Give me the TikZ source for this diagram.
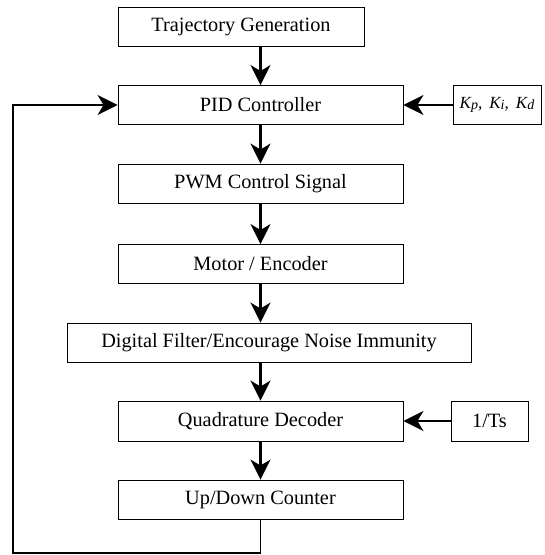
\documentclass[tikz,border=0pt]{standalone}
\usepackage{fontspec}
\setmainfont{Liberation Serif}
\usetikzlibrary{arrows.meta}
\newcommand\ksub[1]{\raisebox{-1.5pt}{\fontsize{14}{15}\selectfont #1}}
\begin{document}
\begin{tikzpicture}[x=1pt,y=-1pt,
  blk/.style={draw, line width=0.9pt, inner sep=0pt, minimum height=39pt,
    font=\fontsize{20.3}{23}\selectfont},
  conn/.style={line width=2.2pt},
  arr/.style={conn, -{Stealth[length=20pt,width=20pt,inset=6pt]}}]
\useasboundingbox[fill=white] (0,0) rectangle (545,555);
\node[blk, minimum width=246pt] (traj) at (241,26.5) {Trajectory Generation};
\node[blk, minimum width=285pt] (pid) at (260.5,105) {PID Controller};
\node[blk, minimum width=88pt, font=\fontsize{17}{19}\selectfont\itshape] (kp) at (497,105)
  {K\ksub{p},\, K\ksub{i},\, K\ksub{d}};
\node[blk, minimum width=285pt] (pwm) at (260.5,183.5) {PWM Control Signal};
\node[blk, minimum width=285pt] (motor) at (260.5,264) {Motor / Encoder};
\node[blk, minimum width=404pt] (dig) at (269,342.5) {Digital Filter/Encourage Noise Immunity};
\node[blk, minimum width=285pt, minimum height=40pt] (quad) at (260.5,421) {Quadrature Decoder};
\node[blk, minimum width=77pt, minimum height=40pt] (ts) at (489.5,421) {1/Ts};
\node[blk, minimum width=285pt] (ud) at (260.5,499.5) {Up/Down Counter};
\coordinate (fb) at (13,553);
\draw[arr] (traj.south -| pid.north) -- (pid.north);
\draw[arr] (pid.south) -- (pwm.north);
\draw[arr] (pwm.south) -- (motor.north);
\draw[arr] (motor.south) -- (motor.south |- dig.north);
\draw[arr] (dig.south -| quad.north) -- (quad.north);
\draw[arr] (quad.south) -- (ud.north);
\draw[arr] (kp.west) -- (pid.east);
\draw[arr] (ts.west) -- (quad.east);
\draw[arr, line width=1.8pt] (ud.south) -- (ud.south |- fb) -- (fb) -- (fb |- pid.west) -- (pid.west);
\end{tikzpicture}
\end{document}
